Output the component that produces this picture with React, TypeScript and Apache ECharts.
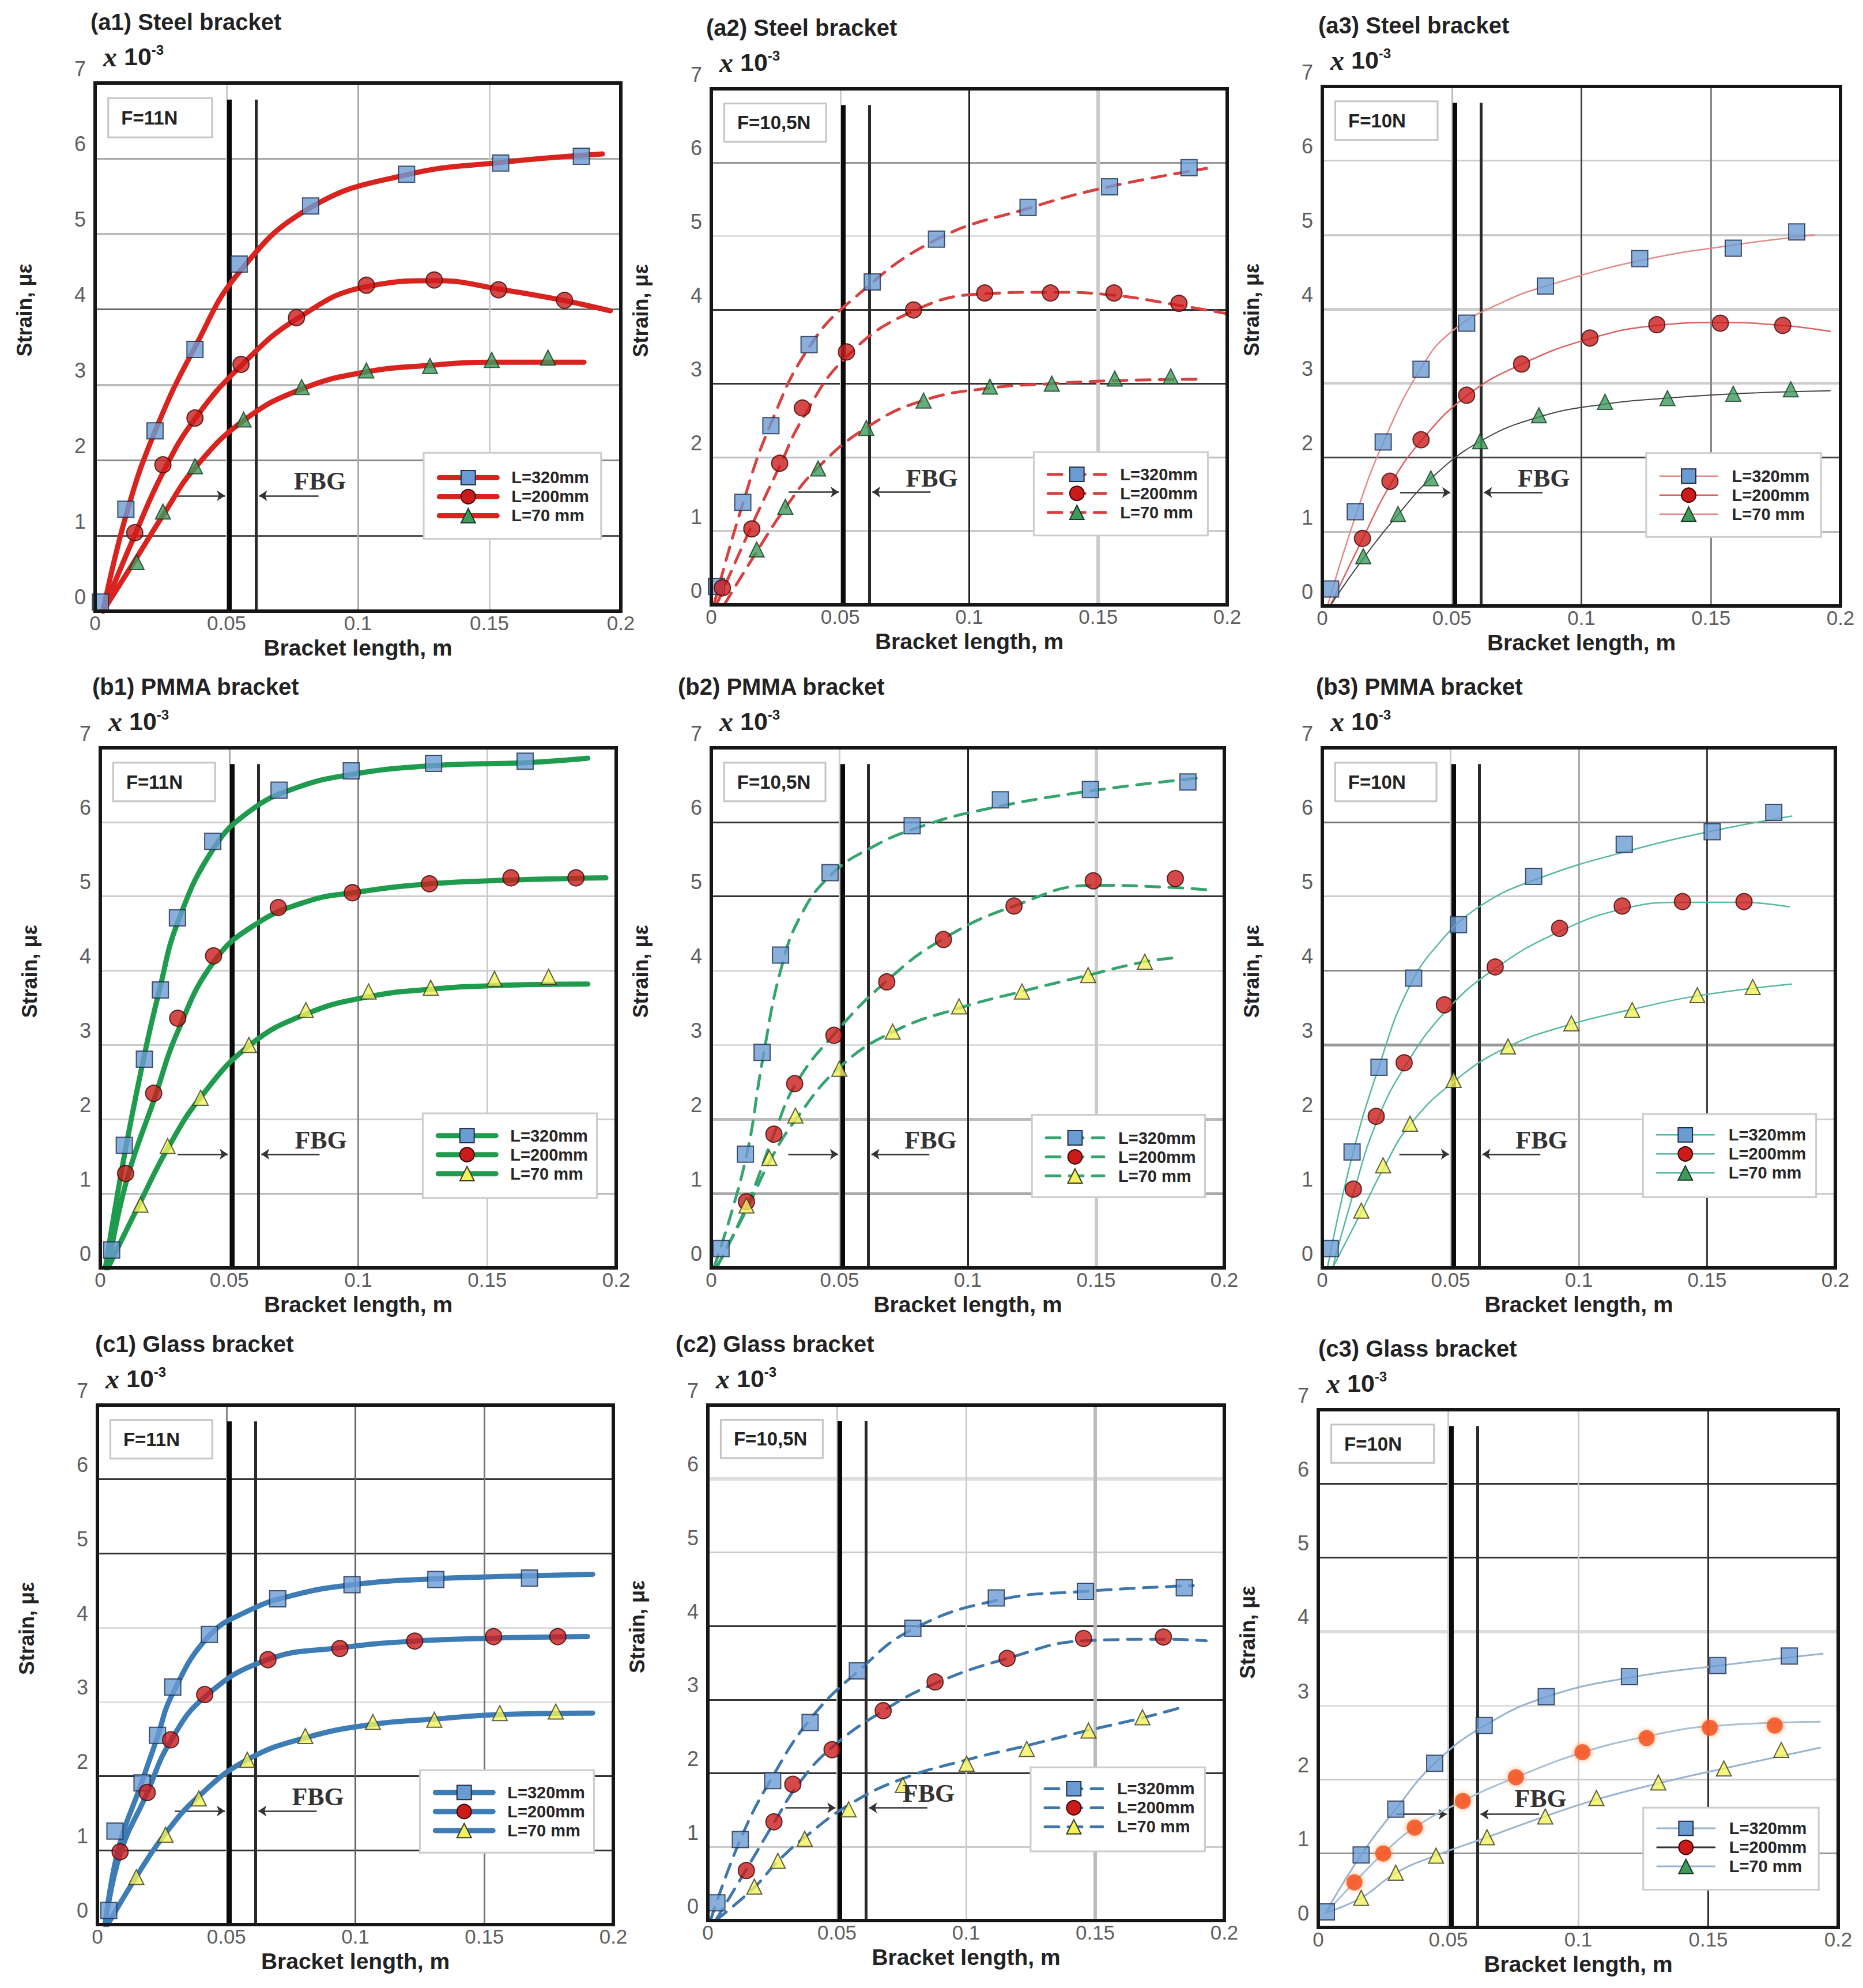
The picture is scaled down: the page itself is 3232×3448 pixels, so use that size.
import React, { useEffect, useRef } from 'react';
import * as echarts from 'echarts';

const SANS = '"Liberation Sans", Arial, Helvetica, sans-serif';
const SERIF = '"Liberation Serif", "Times New Roman", serif';

// ---------------- categories / labels ----------------
const seriesNames = ['L=320mm', 'L=200mm', 'L=70 mm'];
const panelTitles = [
  '(a1) Steel bracket', '(a2) Steel bracket', '(a3) Steel bracket',
  '(b1) PMMA bracket', '(b2) PMMA bracket', '(b3) PMMA bracket',
  '(c1) Glass bracket', '(c2) Glass bracket', '(c3) Glass bracket',
];
const forceLabels = ['F=11N', 'F=10,5N', 'F=10N', 'F=11N', 'F=10,5N', 'F=10N', 'F=11N', 'F=10,5N', 'F=10N'];
const xTickValues = [0, 0.05, 0.1, 0.15, 0.2];
const yTickValues = [0, 1, 2, 3, 4, 5, 6, 7];
const fbgLineX = [0.0511, 0.0612];
const fbgLineTop = 6.78;
const fbgArrowLeft = [0.03, 0.0494];
const fbgArrowRight = [0.085, 0.0624];
const fbgArrowY = 1.53;
const fbgTextX = 0.0855;
const forceBoxX = [0.005, 0.0445];
const forceBoxY = [6.8, 6.28];
const legendBoxX = [0.125, 0.1925];

// ---------------- data: (a1) ----------------
const a1Sq = [[0.002, 0.12], [0.0117, 1.35], [0.0228, 2.39], [0.038, 3.47], [0.0548, 4.6], [0.082, 5.37], [0.1185, 5.79], [0.1543, 5.94], [0.185, 6.03]];
const a1Ci = [[0.0151, 1.04], [0.0258, 1.94], [0.038, 2.56], [0.0555, 3.27], [0.0766, 3.89], [0.1032, 4.32], [0.129, 4.39], [0.1535, 4.26], [0.1786, 4.12]];
const a1Tr = [[0.0158, 0.65], [0.0258, 1.32], [0.038, 1.92], [0.0565, 2.54], [0.0786, 2.97], [0.1032, 3.19], [0.1274, 3.25], [0.1509, 3.33], [0.1723, 3.36]];
const a1Fit320 = [[0.003, 0], [0.012, 1.3], [0.023, 2.4], [0.038, 3.5], [0.055, 4.5], [0.082, 5.35], [0.118, 5.78], [0.155, 5.95], [0.193, 6.06]];
const a1Fit200 = [[0.003, 0], [0.015, 1.0], [0.026, 1.85], [0.038, 2.55], [0.056, 3.27], [0.077, 3.88], [0.103, 4.3], [0.13, 4.38], [0.155, 4.26], [0.178, 4.12], [0.196, 3.98]];
const a1Fit70 = [[0.003, 0], [0.016, 0.72], [0.026, 1.28], [0.038, 1.9], [0.057, 2.54], [0.079, 2.95], [0.103, 3.17], [0.128, 3.26], [0.151, 3.3], [0.186, 3.3]];

// ---------------- data: (a2) ----------------
const a2Sq = [[0.002, 0.25], [0.0122, 1.39], [0.0231, 2.43], [0.0379, 3.53], [0.0624, 4.38], [0.0873, 4.96], [0.1228, 5.39], [0.1544, 5.67], [0.1852, 5.93]];
const a2Ci = [[0.0043, 0.23], [0.0157, 1.03], [0.0265, 1.92], [0.0353, 2.67], [0.0524, 3.43], [0.0784, 4.0], [0.106, 4.23], [0.1315, 4.23], [0.1561, 4.23], [0.1813, 4.09]];
const a2Tr = [[0.0176, 0.75], [0.0287, 1.33], [0.0414, 1.85], [0.0601, 2.4], [0.0823, 2.77], [0.108, 2.96], [0.132, 3.0], [0.1564, 3.07], [0.1781, 3.1]];
const a2Fit320 = [[0.001, 0], [0.012, 1.35], [0.023, 2.45], [0.038, 3.5], [0.055, 4.15], [0.087, 4.95], [0.123, 5.38], [0.154, 5.67], [0.192, 5.92]];
const a2Fit200 = [[0.002, 0], [0.016, 1.1], [0.0265, 1.88], [0.035, 2.5], [0.052, 3.35], [0.078, 3.98], [0.106, 4.22], [0.131, 4.24], [0.156, 4.2], [0.18, 4.07], [0.2, 3.95]];
const a2Fit70 = [[0.005, 0], [0.0176, 0.72], [0.029, 1.33], [0.041, 1.85], [0.06, 2.4], [0.082, 2.77], [0.108, 2.94], [0.132, 3.0], [0.156, 3.04], [0.19, 3.06]];

// ---------------- data: (a3) ----------------
const a3Sq = [[0.0032, 0.23], [0.0127, 1.27], [0.0235, 2.21], [0.0381, 3.19], [0.0557, 3.81], [0.0861, 4.31], [0.1225, 4.68], [0.1586, 4.82], [0.1831, 5.04]];
const a3Ci = [[0.0155, 0.91], [0.0261, 1.68], [0.0381, 2.24], [0.0557, 2.84], [0.0769, 3.26], [0.1033, 3.61], [0.1291, 3.79], [0.1536, 3.81], [0.1777, 3.78]];
const a3Tr = [[0.0158, 0.67], [0.0292, 1.24], [0.0419, 1.72], [0.0609, 2.22], [0.0836, 2.57], [0.1091, 2.75], [0.1332, 2.8], [0.1586, 2.86], [0.1808, 2.92]];
const a3Fit320 = [[0.002, 0], [0.0127, 1.2], [0.0235, 2.2], [0.038, 3.2], [0.05, 3.7], [0.07, 4.1], [0.09, 4.35], [0.122, 4.65], [0.158, 4.86], [0.19, 5.0]];
const a3Fit200 = [[0.003, 0], [0.0155, 0.9], [0.026, 1.62], [0.038, 2.22], [0.056, 2.84], [0.077, 3.26], [0.103, 3.6], [0.129, 3.78], [0.154, 3.82], [0.178, 3.78], [0.196, 3.7]];
const a3Fit70 = [[0.003, 0], [0.016, 0.65], [0.029, 1.22], [0.042, 1.72], [0.061, 2.22], [0.084, 2.55], [0.109, 2.72], [0.133, 2.8], [0.159, 2.86], [0.196, 2.9]];

// ---------------- data: (b1) ----------------
const b1Sq = [[0.0044, 0.24], [0.0093, 1.65], [0.0171, 2.81], [0.0233, 3.74], [0.0299, 4.71], [0.0436, 5.74], [0.0693, 6.43], [0.0973, 6.69], [0.1292, 6.79], [0.1647, 6.82]];
const b1Ci = [[0.0098, 1.27], [0.0207, 2.35], [0.03, 3.36], [0.0439, 4.2], [0.069, 4.85], [0.0977, 5.05], [0.1276, 5.17], [0.1592, 5.25], [0.1844, 5.25]];
const b1Tr = [[0.0156, 0.85], [0.0261, 1.64], [0.0389, 2.29], [0.0576, 3.0], [0.0797, 3.47], [0.104, 3.72], [0.1281, 3.77], [0.1528, 3.89], [0.1738, 3.92]];
const b1Fit320 = [[0.002, 0], [0.009, 1.45], [0.017, 2.85], [0.023, 3.75], [0.03, 4.65], [0.044, 5.65], [0.058, 6.15], [0.075, 6.45], [0.097, 6.64], [0.129, 6.76], [0.165, 6.8], [0.189, 6.86]];
const b1Fit200 = [[0.003, 0], [0.01, 1.15], [0.021, 2.28], [0.03, 3.18], [0.044, 4.12], [0.06, 4.62], [0.08, 4.93], [0.098, 5.05], [0.128, 5.17], [0.16, 5.22], [0.196, 5.25]];
const b1Fit70 = [[0.003, 0], [0.016, 0.92], [0.026, 1.6], [0.039, 2.3], [0.058, 3.0], [0.08, 3.42], [0.104, 3.65], [0.128, 3.75], [0.153, 3.8], [0.189, 3.82]];

// ---------------- data: (b2) ----------------
const b2Sq = [[0.0038, 0.26], [0.0133, 1.53], [0.0198, 2.9], [0.027, 4.21], [0.0463, 5.32], [0.0783, 5.95], [0.1127, 6.3], [0.1478, 6.44], [0.1858, 6.54]];
const b2Ci = [[0.0137, 0.89], [0.0244, 1.8], [0.0325, 2.48], [0.0478, 3.13], [0.0684, 3.85], [0.0905, 4.42], [0.118, 4.87], [0.1489, 5.21], [0.1809, 5.24]];
const b2Tr = [[0.0137, 0.84], [0.0226, 1.48], [0.0328, 2.05], [0.0499, 2.68], [0.0707, 3.18], [0.0966, 3.52], [0.1211, 3.72], [0.1469, 3.94], [0.169, 4.12]];
const b2Fit320 = [[0.001, 0], [0.013, 1.4], [0.02, 2.8], [0.027, 4.0], [0.035, 4.75], [0.047, 5.3], [0.062, 5.65], [0.08, 5.92], [0.105, 6.16], [0.148, 6.42], [0.192, 6.6]];
const b2Fit200 = [[0.002, 0], [0.014, 0.85], [0.025, 1.85], [0.033, 2.48], [0.048, 3.15], [0.068, 3.85], [0.09, 4.42], [0.118, 4.87], [0.149, 5.15], [0.18, 5.12], [0.196, 5.08]];
const b2Fit70 = [[0.002, 0], [0.014, 0.8], [0.023, 1.45], [0.033, 2.0], [0.05, 2.7], [0.071, 3.18], [0.097, 3.5], [0.121, 3.72], [0.147, 3.94], [0.169, 4.12], [0.183, 4.18]];

// ---------------- data: (b3) ----------------
const b3Sq = [[0.0031, 0.26], [0.0116, 1.56], [0.0221, 2.7], [0.0356, 3.9], [0.0531, 4.62], [0.0824, 5.27], [0.1177, 5.7], [0.152, 5.87], [0.176, 6.13]];
const b3Ci = [[0.0121, 1.06], [0.021, 2.04], [0.0319, 2.76], [0.0476, 3.54], [0.0674, 4.05], [0.0925, 4.57], [0.1169, 4.87], [0.1404, 4.93], [0.1644, 4.93]];
const b3Tr = [[0.0152, 0.77], [0.0237, 1.38], [0.0342, 1.94], [0.0512, 2.53], [0.0724, 2.98], [0.0971, 3.29], [0.1208, 3.47], [0.1462, 3.67], [0.1678, 3.78]];
const b3Fit320 = [[0.002, 0], [0.0116, 1.5], [0.022, 2.7], [0.033, 3.72], [0.045, 4.35], [0.062, 4.88], [0.085, 5.25], [0.118, 5.6], [0.152, 5.88], [0.183, 6.08]];
const b3Fit200 = [[0.004, 0], [0.0121, 1.0], [0.021, 1.95], [0.032, 2.7], [0.048, 3.45], [0.067, 4.02], [0.092, 4.52], [0.117, 4.83], [0.14, 4.92], [0.164, 4.92], [0.182, 4.86]];
const b3Fit70 = [[0.004, 0], [0.0152, 0.75], [0.024, 1.35], [0.034, 1.92], [0.051, 2.5], [0.072, 2.97], [0.097, 3.28], [0.121, 3.48], [0.146, 3.66], [0.183, 3.82]];

// ---------------- data: (c1) ----------------
const c1Sq = [[0.0044, 0.19], [0.0068, 1.26], [0.0173, 1.91], [0.0233, 2.55], [0.0292, 3.2], [0.0434, 3.91], [0.0699, 4.39], [0.0987, 4.58], [0.1312, 4.65], [0.1675, 4.67]];
const c1Ci = [[0.0088, 0.98], [0.0193, 1.78], [0.0284, 2.49], [0.0416, 3.1], [0.0661, 3.57], [0.094, 3.72], [0.123, 3.82], [0.1536, 3.88], [0.1785, 3.88]];
const c1Tr = [[0.0151, 0.64], [0.0264, 1.21], [0.0393, 1.7], [0.0581, 2.22], [0.0806, 2.54], [0.1068, 2.73], [0.1306, 2.76], [0.156, 2.85], [0.1777, 2.87]];
const c1Fit320 = [[0.003, 0], [0.008, 1.0], [0.017, 1.9], [0.023, 2.5], [0.029, 3.1], [0.043, 3.88], [0.058, 4.22], [0.075, 4.43], [0.099, 4.58], [0.131, 4.66], [0.168, 4.7], [0.192, 4.72]];
const c1Fit200 = [[0.003, 0], [0.0088, 0.95], [0.019, 1.75], [0.028, 2.45], [0.042, 3.08], [0.066, 3.57], [0.094, 3.73], [0.123, 3.82], [0.154, 3.86], [0.19, 3.88]];
const c1Fit70 = [[0.004, 0], [0.015, 0.64], [0.026, 1.21], [0.039, 1.72], [0.058, 2.22], [0.081, 2.52], [0.107, 2.7], [0.131, 2.77], [0.156, 2.83], [0.192, 2.85]];

// ---------------- data: (c2) ----------------
const c2Sq = [[0.0035, 0.24], [0.0126, 1.1], [0.0251, 1.9], [0.0396, 2.69], [0.0579, 3.39], [0.0794, 3.97], [0.1117, 4.38], [0.1462, 4.47], [0.1845, 4.52]];
const c2Ci = [[0.0149, 0.68], [0.0256, 1.34], [0.0329, 1.85], [0.0481, 2.32], [0.0679, 2.85], [0.088, 3.24], [0.1159, 3.56], [0.1455, 3.83], [0.1764, 3.85]];
const c2Tr = [[0.018, 0.46], [0.0271, 0.81], [0.0375, 1.11], [0.0545, 1.51], [0.0755, 1.84], [0.1002, 2.13], [0.1235, 2.33], [0.1474, 2.58], [0.1683, 2.76]];
const c2Fit320 = [[0.001, 0], [0.0126, 1.1], [0.025, 1.95], [0.04, 2.75], [0.058, 3.38], [0.079, 3.95], [0.112, 4.35], [0.146, 4.47], [0.188, 4.55]];
const c2Fit200 = [[0.003, 0], [0.015, 0.7], [0.026, 1.35], [0.035, 1.85], [0.048, 2.35], [0.068, 2.85], [0.088, 3.22], [0.116, 3.56], [0.146, 3.8], [0.176, 3.82], [0.193, 3.8]];
const c2Fit70 = [[0.003, 0], [0.018, 0.45], [0.027, 0.8], [0.0375, 1.13], [0.055, 1.58], [0.075, 1.92], [0.1, 2.18], [0.124, 2.38], [0.147, 2.58], [0.168, 2.75], [0.182, 2.88]];

// ---------------- data: (c3) ----------------
const c3Sq = [[0.0031, 0.21], [0.0165, 0.98], [0.0298, 1.6], [0.0448, 2.22], [0.0638, 2.73], [0.0877, 3.12], [0.1197, 3.39], [0.1537, 3.54], [0.1812, 3.67]];
const c3Ci = [[0.0139, 0.61], [0.025, 1.0], [0.0371, 1.35], [0.0556, 1.71], [0.076, 2.03], [0.1016, 2.37], [0.1263, 2.56], [0.1506, 2.7], [0.1756, 2.73]];
const c3Tr = [[0.0165, 0.4], [0.0298, 0.74], [0.0453, 0.97], [0.0649, 1.22], [0.0873, 1.5], [0.107, 1.75], [0.1308, 1.96], [0.156, 2.15], [0.1781, 2.4]];
const c3Fit320 = [[0.003, 0.21], [0.0165, 0.98], [0.0298, 1.6], [0.0448, 2.22], [0.064, 2.73], [0.088, 3.12], [0.12, 3.38], [0.154, 3.54], [0.194, 3.7]];
const c3Fit200 = [[0.003, 0.2], [0.0139, 0.61], [0.025, 1.0], [0.037, 1.35], [0.0556, 1.71], [0.076, 2.03], [0.102, 2.37], [0.126, 2.58], [0.15, 2.72], [0.193, 2.78]];
const c3Fit70 = [[0.003, 0.2], [0.0165, 0.4], [0.03, 0.74], [0.045, 0.97], [0.065, 1.22], [0.087, 1.5], [0.107, 1.73], [0.131, 1.95], [0.156, 2.15], [0.193, 2.43]];

const panelData = [
  { pts: [a1Sq, a1Ci, a1Tr], fit: [a1Fit320, a1Fit200, a1Fit70] },
  { pts: [a2Sq, a2Ci, a2Tr], fit: [a2Fit320, a2Fit200, a2Fit70] },
  { pts: [a3Sq, a3Ci, a3Tr], fit: [a3Fit320, a3Fit200, a3Fit70] },
  { pts: [b1Sq, b1Ci, b1Tr], fit: [b1Fit320, b1Fit200, b1Fit70] },
  { pts: [b2Sq, b2Ci, b2Tr], fit: [b2Fit320, b2Fit200, b2Fit70] },
  { pts: [b3Sq, b3Ci, b3Tr], fit: [b3Fit320, b3Fit200, b3Fit70] },
  { pts: [c1Sq, c1Ci, c1Tr], fit: [c1Fit320, c1Fit200, c1Fit70] },
  { pts: [c2Sq, c2Ci, c2Tr], fit: [c2Fit320, c2Fit200, c2Fit70] },
  { pts: [c3Sq, c3Ci, c3Tr], fit: [c3Fit320, c3Fit200, c3Fit70] },
];

// ---------------- styles / layout ----------------
const SQ = { color: '#6b9bd3', borderColor: '#1d2c48', borderWidth: 2 };
const CI = { color: '#cc1b1b', borderColor: '#3a0606', borderWidth: 2 };
const TRG = { color: '#3f9b5d', borderColor: '#163a24', borderWidth: 2 };
const TRY = { color: '#f2f25c', borderColor: '#3a3a22', borderWidth: 2 };
const CIO = { color: '#f4471c', borderWidth: 0, shadowBlur: 10, shadowColor: 'rgba(255,150,70,0.95)' };

const DASH = [24, 16];
const panelStyles: any[] = [
  { frame: [165, 144, 1077, 1060], titleDx: -8, lineColors: ['#d9231f', '#d9231f', '#d9231f'], lineWidths: [9, 9, 9], dash: null,
    plot: [SQ, CI, TRG], leg: [SQ, CI, TRG], legLine: null, legRowY: 1.77, legBoxY: [2.1, 0.96], fbgY: 1.72,
    gridH: [['#555', 3], ['#888', 3], ['#bbb', 4], ['#666', 3], ['#bbb', 4], ['#aaa', 3]], gridV: [['#ccc', 3], ['#aaa', 3], ['#ccc', 3]] },
  { frame: [1234, 154, 2129, 1049], titleDx: -9, lineColors: ['#d94040', '#d94040', '#d94040'], lineWidths: [5, 5, 5], dash: DASH,
    plot: [SQ, CI, TRG], leg: [SQ, CI, TRG], legLine: null, legRowY: 1.77, legBoxY: [2.07, 0.94], fbgY: 1.72,
    gridH: [['#ccc', 4], ['#bbb', 3], ['#333', 3], ['#333', 3], ['#ddd', 3], ['#999', 3]], gridV: [['#ccc', 3], ['#222', 3], ['#ccc', 6]] },
  { frame: [2294, 150, 3193, 1051], titleDx: -7, lineColors: ['#e58a8a', '#dc6262', '#444444'], lineWidths: [2.5, 2.5, 2], dash: null,
    plot: [SQ, CI, TRG], leg: [SQ, CI, TRG], legLine: [null, null, '#e58a8a'], legRowY: 1.75, legBoxY: [2.06, 0.93], fbgY: 1.72,
    gridH: [['#bbb', 3], ['#444', 3], ['#ccc', 4], ['#ccc', 5], ['#ccc', 4], ['#ccc', 3]], gridV: [['#bbb', 3], ['#444', 3], ['#888', 3]] },
  { frame: [174, 1297, 1069, 2199], titleDx: -14, lineColors: ['#1f9b4e', '#1f9b4e', '#1f9b4e'], lineWidths: [9, 9, 9], dash: null,
    plot: [SQ, CI, TRY], leg: [SQ, CI, TRY], legLine: null, legRowY: 1.78, legBoxY: [2.08, 0.94], fbgY: 1.72,
    gridH: [['#bbb', 3], ['#ccc', 3], ['#ccc', 3], ['#ccc', 3], ['#ccc', 3], ['#ccc', 3]], gridV: [['#aaa', 3], ['#888', 3], ['#ccc', 3]] },
  { frame: [1234, 1297, 2124, 2199], titleDx: -58, lineColors: ['#36a46e', '#36a46e', '#36a46e'], lineWidths: [5, 5, 5], dash: DASH,
    plot: [SQ, CI, TRY], leg: [SQ, CI, TRY], legLine: null, legRowY: 1.75, legBoxY: [2.06, 0.95], fbgY: 1.72,
    gridH: [['#aaa', 5], ['#bbb', 5], ['#ddd', 3], ['#ddd', 4], ['#333', 3], ['#333', 3]], gridV: [['#ccc', 3], ['#222', 3], ['#ccc', 6]] },
  { frame: [2294, 1297, 3184, 2199], titleDx: -11, lineColors: ['#55b8a0', '#55b8a0', '#55b8a0'], lineWidths: [2.5, 2.5, 2.5], dash: null,
    plot: [SQ, CI, TRY], leg: [SQ, CI, TRG], legLine: null, legRowY: 1.79, legBoxY: [2.07, 0.95], fbgY: 1.72,
    gridH: [['#ccc', 3], ['#ccc', 3], ['#999', 5], ['#888', 3], ['#ccc', 3], ['#777', 3]], gridV: [['#ccc', 3], ['#aaa', 3], ['#444', 3]] },
  { frame: [169, 2437, 1064, 3338], titleDx: -4, lineColors: ['#3e7cb6', '#3e7cb6', '#3e7cb6'], lineWidths: [9, 9, 9], dash: null,
    plot: [SQ, CI, TRY], leg: [SQ, CI, TRY], legLine: null, legRowY: 1.78, legBoxY: [2.08, 0.97], fbgY: 1.72,
    gridH: [['#333', 3], ['#333', 3], ['#ddd', 3], ['#ddd', 3], ['#333', 3], ['#333', 3]], gridV: [['#888', 3], ['#666', 3], ['#777', 3]] },
  { frame: [1228, 2437, 2124, 3331], titleDx: -56, lineColors: ['#3f76ac', '#3f76ac', '#3f76ac'], lineWidths: [5, 5, 5], dash: DASH,
    plot: [SQ, CI, TRY], leg: [SQ, CI, TRY], legLine: null, legRowY: 1.79, legBoxY: [2.08, 0.94], fbgY: 1.73,
    gridH: [['#ccc', 3], ['#333', 3], ['#333', 3], ['#333', 3], ['#ccc', 3], ['#ddd', 6]], gridV: [['#ccc', 3], ['#ccc', 3], ['#bbb', 6]] },
  { frame: [2287, 2445, 3189, 3343], titleDx: 0, lineColors: ['#98b4cf', '#a8bfd4', '#98b4cf'], lineWidths: [3, 3, 3], dash: null,
    plot: [SQ, CIO, TRY], leg: [SQ, CI, TRG], legLine: [null, '#333333', null], legRowY: 1.34, legBoxY: [1.62, 0.51], fbgY: 1.74,
    gridH: [['#999', 3], ['#ccc', 3], ['#ddd', 3], ['#ddd', 6], ['#333', 3], ['#333', 3]], gridV: [['#ccc', 3], ['#ccc', 3], ['#333', 3]] },
];

const PAD_L = 165, PAD_T = 140, PAD_R = 30, PAD_B = 110;
const SYMBOLS = ['rect', 'circle', 'triangle'];
const SYMBOL_SIZES = [28, 28, 26];

function buildOption(i: number) {
  const st = panelStyles[i];
  const dat = panelData[i];
  const [L, T, R, B] = st.frame;
  const W = R - L;
  const H = B - T;
  const px = (x: number) => PAD_L + (x / 0.2) * W;
  const py = (y: number) => PAD_T + ((7 - y) / 7) * H;
  const LEG_ITEM_H = 31;

  const series: any[] = [];

  const arrowStyle = { color: '#333', width: 2.5, type: 'solid' };
  series.push({
    type: 'line',
    name: '__decor',
    data: [],
    silent: true,
    z: 1,
    markLine: {
      silent: true,
      z: 1,
      symbol: ['none', 'none'],
      label: { show: false },
      emphasis: { disabled: true },
      data: [
        ...st.gridH.map((g: any, k: number) => ({ yAxis: yTickValues[k + 1], lineStyle: { color: g[0], width: g[1], type: 'solid' } })),
        ...st.gridV.map((g: any, k: number) => ({ xAxis: xTickValues[k + 1], lineStyle: { color: g[0], width: g[1], type: 'solid' } })),
        [{ coord: [fbgLineX[0], 0], lineStyle: { color: '#0a0a0a', width: 8, type: 'solid' } }, { coord: [fbgLineX[0], fbgLineTop] }],
        [{ coord: [fbgLineX[1], 0], lineStyle: { color: '#2a2a2a', width: 5, type: 'solid' } }, { coord: [fbgLineX[1], fbgLineTop] }],
        [{ coord: [fbgArrowLeft[0], fbgArrowY], lineStyle: arrowStyle, symbol: 'none' }, { coord: [fbgArrowLeft[1], fbgArrowY], symbol: 'arrow', symbolSize: 14 }],
        [{ coord: [fbgArrowRight[0], fbgArrowY], lineStyle: arrowStyle, symbol: 'none' }, { coord: [fbgArrowRight[1], fbgArrowY], symbol: 'arrow', symbolSize: 14 }],
      ],
    },
    markArea: {
      silent: true,
      z: 2,
      emphasis: { disabled: true },
      data: [
        [
          {
            coord: [forceBoxX[0], forceBoxY[0]],
            itemStyle: { color: '#ffffff', borderColor: '#c4c4c4', borderWidth: 3 },
            label: { show: true, position: 'insideLeft', distance: 24, formatter: forceLabels[i], fontSize: 33, fontWeight: 'bold', color: '#222', fontFamily: SANS },
          },
          { coord: [forceBoxX[1], forceBoxY[1]] },
        ],
        [
          { coord: [legendBoxX[0], st.legBoxY[0]], itemStyle: { color: '#ffffff', borderColor: '#cccccc', borderWidth: 3 }, label: { show: false } },
          { coord: [legendBoxX[1], st.legBoxY[1]] },
        ],
      ],
    },
    markPoint: {
      silent: true,
      z: 5,
      data: [
        {
          coord: [fbgTextX, st.fbgY],
          symbol: 'rect',
          symbolSize: 1,
          itemStyle: { color: 'rgba(0,0,0,0)' },
          label: { show: true, position: 'inside', formatter: 'FBG', fontFamily: SERIF, fontWeight: 'bold', fontSize: 44, color: '#333' },
        },
      ],
    },
  });

  seriesNames.forEach((name, k) => {
    series.push({
      type: 'line',
      name,
      data: dat.fit[k],
      smooth: 0.45,
      showSymbol: false,
      symbol: SYMBOLS[k],
      symbolSize: 22,
      lineStyle: { color: st.lineColors[k], width: st.lineWidths[k], type: st.dash ? st.dash : 'solid', cap: 'round', join: 'round' },
      itemStyle: st.leg[k],
      z: 3,
      silent: true,
    });
  });
  seriesNames.forEach((name, k) => {
    series.push({
      type: 'scatter',
      name,
      data: dat.pts[k],
      symbol: SYMBOLS[k],
      symbolSize: SYMBOL_SIZES[k],
      itemStyle: st.plot[k],
      z: 4,
      silent: true,
    });
  });

  const legendData = seriesNames.map((n, k) =>
    st.legLine && st.legLine[k] ? { name: n, lineStyle: { color: st.legLine[k] } } : { name: n }
  );

  return {
    animation: false,
    textStyle: { fontFamily: SANS },
    grid: { left: PAD_L, top: PAD_T, width: W, height: H, show: true, borderColor: '#161616', borderWidth: 6, backgroundColor: 'transparent', z: 6 },
    xAxis: {
      type: 'value', min: 0, max: 0.2, interval: 0.05,
      name: 'Bracket length, m', nameLocation: 'middle', nameGap: 44,
      nameTextStyle: { fontSize: 39, fontWeight: 'bold', color: '#222', fontFamily: SANS },
      axisLine: { show: false }, axisTick: { show: false }, splitLine: { show: false },
      axisLabel: { fontSize: 35, color: '#5e5e5e', margin: 3, fontFamily: SANS, formatter: (v: number) => String(+v.toFixed(2)) },
    },
    yAxis: {
      type: 'value', min: 0, max: 7, interval: 1,
      axisLine: { show: false }, axisTick: { show: false }, splitLine: { show: false },
      axisLabel: { fontSize: 36, color: '#5e5e5e', margin: 16, fontFamily: SANS, verticalAlign: 'bottom', lineHeight: 50 },
    },
    legend: {
      data: legendData,
      orient: 'vertical',
      left: px(0.1300),
      top: py(st.legRowY) - LEG_ITEM_H / 2,
      padding: 0,
      itemWidth: 100,
      itemHeight: LEG_ITEM_H,
      itemGap: 2,
      selectedMode: false,
      lineStyle: { width: Math.max(2, st.lineWidths[0]) },
      itemStyle: { borderWidth: 2 },
      textStyle: { fontSize: 29, fontWeight: 'bold', color: '#262626', fontFamily: SANS, padding: [0, 0, 0, 20], lineHeight: LEG_ITEM_H },
    },
    graphic: [
      {
        type: 'text', x: PAD_L + st.titleDx, y: PAD_T - 106, silent: true,
        style: { text: panelTitles[i], fontSize: 40, fontWeight: 'bold', fontFamily: SANS, fill: '#222', align: 'left', verticalAlign: 'middle' },
      },
      {
        type: 'text', x: PAD_L + 14, y: PAD_T - 46, silent: true,
        style: {
          text: '{x|x }{n|10}{s|-3}',
          align: 'left', verticalAlign: 'middle',
          rich: {
            x: { fontFamily: SERIF, fontStyle: 'italic', fontWeight: 'bold', fontSize: 48, fill: '#222' },
            n: { fontFamily: SANS, fontWeight: 'bold', fontSize: 43, fill: '#222' },
            s: { fontFamily: SANS, fontWeight: 'bold', fontSize: 24, fill: '#222', verticalAlign: 'top' },
          },
        },
      },
      {
        type: 'text', x: PAD_L - 123, y: PAD_T + 0.43 * H, rotation: Math.PI / 2, silent: true,
        style: { text: 'Strain, με', fontSize: 36, fontWeight: 'bold', fontFamily: SANS, fill: '#222', align: 'center', verticalAlign: 'middle' },
      },
    ],
    series,
  };
}

function Panel({ index }: { index: number }) {
  const ref = useRef<HTMLDivElement>(null);
  useEffect(() => {
    if (!ref.current) return;
    const chart = echarts.init(ref.current, undefined, { renderer: 'svg' });
    chart.setOption(buildOption(index) as any);
    return () => chart.dispose();
  }, [index]);
  const [L, T, R, B] = panelStyles[index].frame;
  return (
    <div
      ref={ref}
      style={{
        position: 'absolute',
        left: L - PAD_L,
        top: T - PAD_T,
        width: R - L + PAD_L + PAD_R,
        height: B - T + PAD_T + PAD_B,
      }}
    />
  );
}

export default function App() {
  return (
    <div style={{ position: 'absolute', left: 0, top: 0, width: 3232, height: 3448, background: '#ffffff', overflow: 'hidden' }}>
      {panelStyles.map((_, i) => (
        <Panel key={i} index={i} />
      ))}
    </div>
  );
}
